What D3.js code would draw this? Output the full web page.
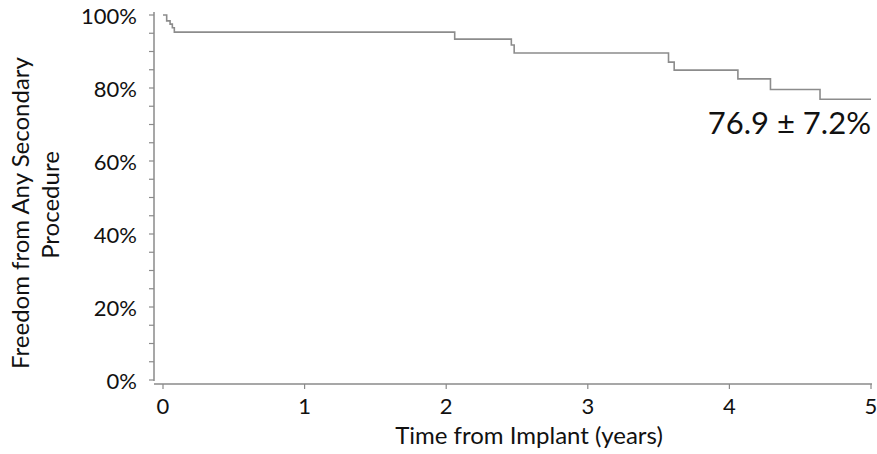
<!DOCTYPE html>
<html>
<head>
<meta charset="utf-8">
<script src="https://cdn.jsdelivr.net/npm/d3@7"></script>
<style>
  body { margin: 0; background: #fff; }
  text { font-family: Lato, "Open Sans", sans-serif; fill: #111; }
</style>
</head>
<body>
<div id="chart"></div>
<script>
// step times (years) and survival (%)
var times = [0, 0.026, 0.05, 0.066, 0.08, 2.06, 2.46, 2.48, 3.57, 3.61, 4.06, 4.29, 4.64, 5.0];
var surv  = [100, 98.4, 97.5, 96.5, 95.3, 93.4, 91.8, 89.6, 87.1, 84.9, 82.5, 79.6, 76.9, 76.9];
var xTicks = [0, 1, 2, 3, 4, 5];
var yTicks = [0, 20, 40, 60, 80, 100];
var annot = "76.9 \u00b1 7.2%";

var fullWidth = 877, fullHeight = 454;

var svg = d3.select("#chart").append("svg")
  .attr("width", fullWidth)
  .attr("height", fullHeight);

var xScale = d3.scaleLinear().domain([0, 5]).range([163, 871]);
var yScale = d3.scaleLinear().domain([0, 100]).range([380, 15]);

var axisColor = "#8a8a8a";

// y axis line + ticks every 5%
svg.append("line")
  .attr("x1", 154).attr("x2", 154)
  .attr("y1", yScale(100) - 3).attr("y2", yScale(0) + 1)
  .attr("stroke", axisColor).attr("stroke-width", 1.5);

svg.selectAll(".ytk").data(d3.range(0, 101, 5)).enter().append("line")
  .attr("x1", 149).attr("x2", 154)
  .attr("y1", function(d){ return yScale(d); })
  .attr("y2", function(d){ return yScale(d); })
  .attr("stroke", axisColor).attr("stroke-width", 1.2);

svg.selectAll(".ylab").data(yTicks).enter().append("text")
  .attr("x", 137)
  .attr("y", function(d){ return yScale(d) + 3; })
  .attr("text-anchor", "end")
  .attr("dominant-baseline", "middle")
  .style("font-size", "22px")
  .text(function(d){ return d + "%"; });

// x axis sits a few px under 0%
var xAxisY = yScale(0) + 4;
svg.append("line")
  .attr("x1", 154).attr("x2", xScale(5) + 1)
  .attr("y1", xAxisY).attr("y2", xAxisY)
  .attr("stroke", axisColor).attr("stroke-width", 1.5);

svg.selectAll(".xtk").data(xTicks).enter().append("line")
  .attr("x1", function(d){ return xScale(d); })
  .attr("x2", function(d){ return xScale(d); })
  .attr("y1", xAxisY).attr("y2", xAxisY + 5)
  .attr("stroke", axisColor).attr("stroke-width", 1.2);

svg.selectAll(".xlab").data(xTicks).enter().append("text")
  .attr("x", function(d){ return xScale(d); })
  .attr("y", 408)
  .attr("text-anchor", "middle")
  .attr("dominant-baseline", "middle")
  .style("font-size", "22px")
  .text(function(d){ return d; });

// titles
svg.append("text")
  .attr("x", 529).attr("y", 438)
  .attr("text-anchor", "middle")
  .attr("dominant-baseline", "middle")
  .style("font-size", "24px")
  .text("Time from Implant (years)");

svg.append("text")
  .attr("transform", "translate(23,213) rotate(-90)")
  .attr("text-anchor", "middle")
  .attr("dominant-baseline", "middle")
  .style("font-size", "24px")
  .text("Freedom from Any Secondary");

svg.append("text")
  .attr("transform", "translate(53,205) rotate(-90)")
  .attr("text-anchor", "middle")
  .attr("dominant-baseline", "middle")
  .style("font-size", "24px")
  .text("Procedure");

// KM step curve
var pts = times.map(function(t, i){ return [t, surv[i]]; });
var line = d3.line()
  .x(function(d){ return xScale(d[0]); })
  .y(function(d){ return yScale(d[1]); })
  .curve(d3.curveStepAfter);

svg.append("path")
  .datum(pts)
  .attr("d", line)
  .attr("fill", "none")
  .attr("stroke", "#8c8c8c")
  .attr("stroke-width", 1.6);

svg.append("text")
  .attr("x", 871).attr("y", 126)
  .attr("text-anchor", "end")
  .attr("dominant-baseline", "middle")
  .style("font-size", "31px")
  .text(annot);
</script>
</body>
</html>
